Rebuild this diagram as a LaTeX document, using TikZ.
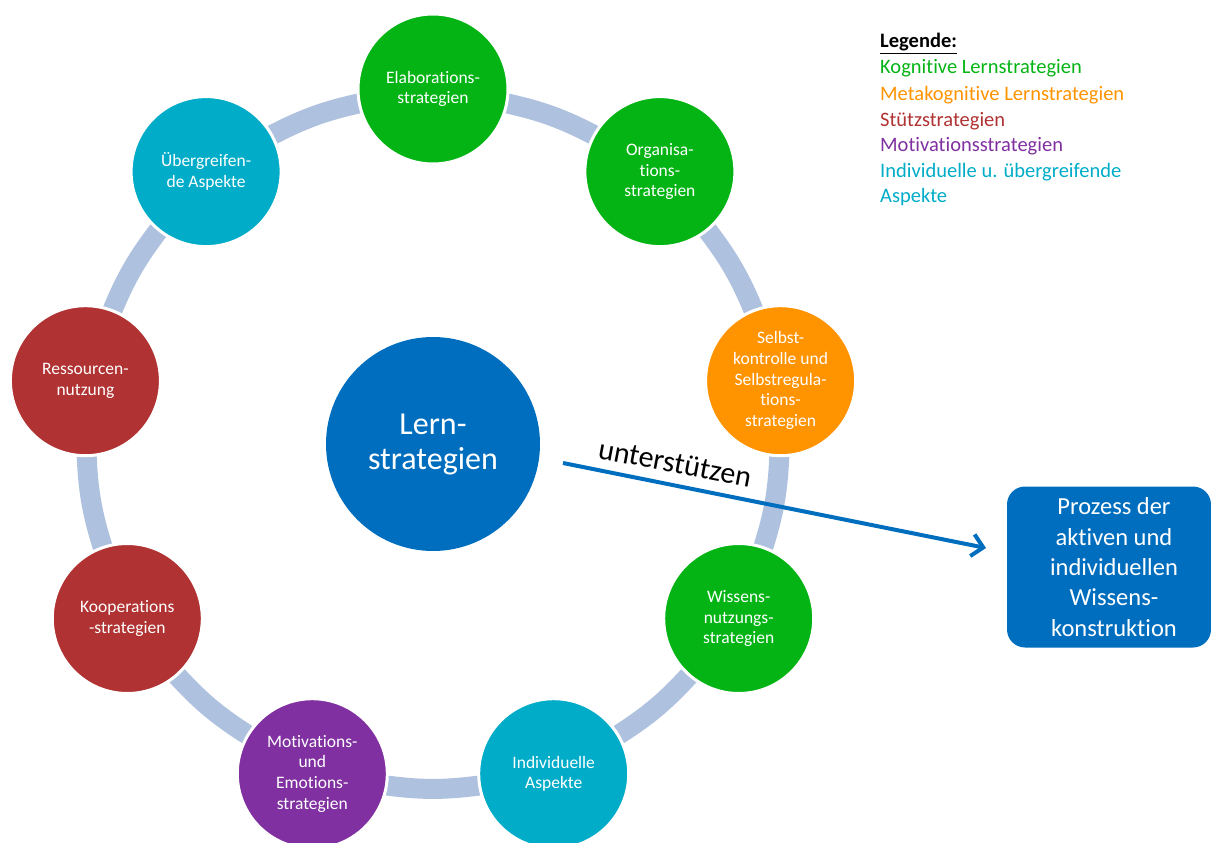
\documentclass[tikz,border=0pt]{standalone}
\usepackage{fontspec}
\setmainfont{Carlito}[Ligatures={NoCommon}]
\usetikzlibrary{arrows.meta}
\definecolor{cgreen}{RGB}{4,180,20}
\definecolor{corange}{RGB}{255,147,0}
\definecolor{cred}{RGB}{176,50,50}
\definecolor{cpurple}{RGB}{128,48,160}
\definecolor{ccyan}{RGB}{0,172,200}
\definecolor{cblue}{RGB}{0,110,190}
\definecolor{cring}{RGB}{174,194,223}
\begin{document}
\begin{tikzpicture}[x=1pt,y=-1pt,
  strat/.style={circle,draw=white,line width=3pt,minimum size=150pt,inner sep=0pt,align=center,text=white,font=\fontsize{17.5}{20.7}\selectfont},
  band/.style={cring,line width=20pt},
  legtext/.style={anchor=base west,inner sep=0pt,font=\fontsize{20.5}{24}\selectfont}
]
\useasboundingbox (0,0) rectangle (1211,843);

\coordinate (c1) at (433,89);
\coordinate (c2) at (659.9,171.6);
\coordinate (c3) at (780.6,380.7);
\coordinate (c4) at (738.7,618.5);
\coordinate (c5) at (553.7,773.7);
\coordinate (c6) at (312.3,773.7);
\coordinate (c7) at (127.3,618.5);
\coordinate (c8) at (85.4,380.7);
\coordinate (c9) at (206.1,171.6);

\draw[band] (c1) .. controls (553.4,111.2) .. (c2);
\draw[band] (c2) .. controls (737.8,266) .. (c3);
\draw[band] (c3) .. controls (779.7,503.1) .. (c4);
\draw[band] (c4) .. controls (659.3,711.6) .. (c5);
\draw[band] (c5) .. controls (433,794) .. (c6);
\draw[band] (c6) .. controls (206.7,711.6) .. (c7);
\draw[band] (c7) .. controls (86.3,503.1) .. (c8);
\draw[band] (c8) .. controls (128.2,266) .. (c9);
\draw[band] (c9) .. controls (312.6,111.2) .. (c1);

\node[strat,fill=cgreen] (elab) at (c1) {Elaborations-\\strategien};
\node[strat,fill=cgreen] (orga) at (c2) {Organisa-\\tions-\\strategien};
\node[strat,fill=corange] (selb) at (c3) {Selbst-\\kontrolle und\\Selbstregula-\\tions-\\strategien};
\node[strat,fill=cgreen] (wiss) at (c4) {Wissens-\\nutzungs-\\strategien};
\node[strat,fill=ccyan] (indi) at (c5) {Individuelle\\Aspekte};
\node[strat,fill=cpurple] (moti) at (c6) {Motivations-\\und\\Emotions-\\strategien};
\node[strat,fill=cred] (koop) at (c7) {Kooperations\\-strategien};
\node[strat,fill=cred] (ress) at (c8) {Ressourcen-\\nutzung};
\node[strat,fill=ccyan] (uebe) at (c9) {Übergreifen-\\de Aspekte};

\node[circle,fill=cblue,minimum size=214pt,inner sep=0pt,text=white,align=center,font=\fontsize{32}{35}\selectfont] (lern) at (433,444) {Lern-\\strategien};

\node[fill=cblue,rounded corners=18pt,minimum width=204pt,minimum height=161pt,inner sep=0pt] (proz) at (1109,567) {};
\node[inner sep=0pt,text=white,align=center,font=\fontsize{24.5}{30.3}\selectfont] (prozt) at (1114,567) {Prozess der\\aktiven und\\individuellen\\Wissens-\\konstruktion};

\coordinate (as) at (563,463);
\coordinate (ae) at (986,548);
\draw[cblue,line width=4pt,-{Straight Barb[length=11pt,width=22pt]}] (as) -- (ae);
\node[rotate=-10.8,inner sep=0pt,font=\fontsize{30}{32}\selectfont] (lbl) at (675,463) {unterstützen};

\node[legtext] (l0) at (880,48) {\underline{\textbf{Legende:}}};
\node[legtext,text=cgreen] (l1) at (880,74) {Kognitive Lernstrategien};
\node[legtext,text=corange] (l2) at (880,100) {Metakognitive Lernstrategien};
\node[legtext,text=cred] (l3) at (880,126) {Stützstrategien};
\node[legtext,text=cpurple] (l4) at (880,151) {Motivationsstrategien};
\node[legtext,text=ccyan] (l5) at (880,177) {Individuelle u. übergreifende};
\node[legtext,text=ccyan] (l6) at (880,202) {Aspekte};
\end{tikzpicture}
\end{document}
